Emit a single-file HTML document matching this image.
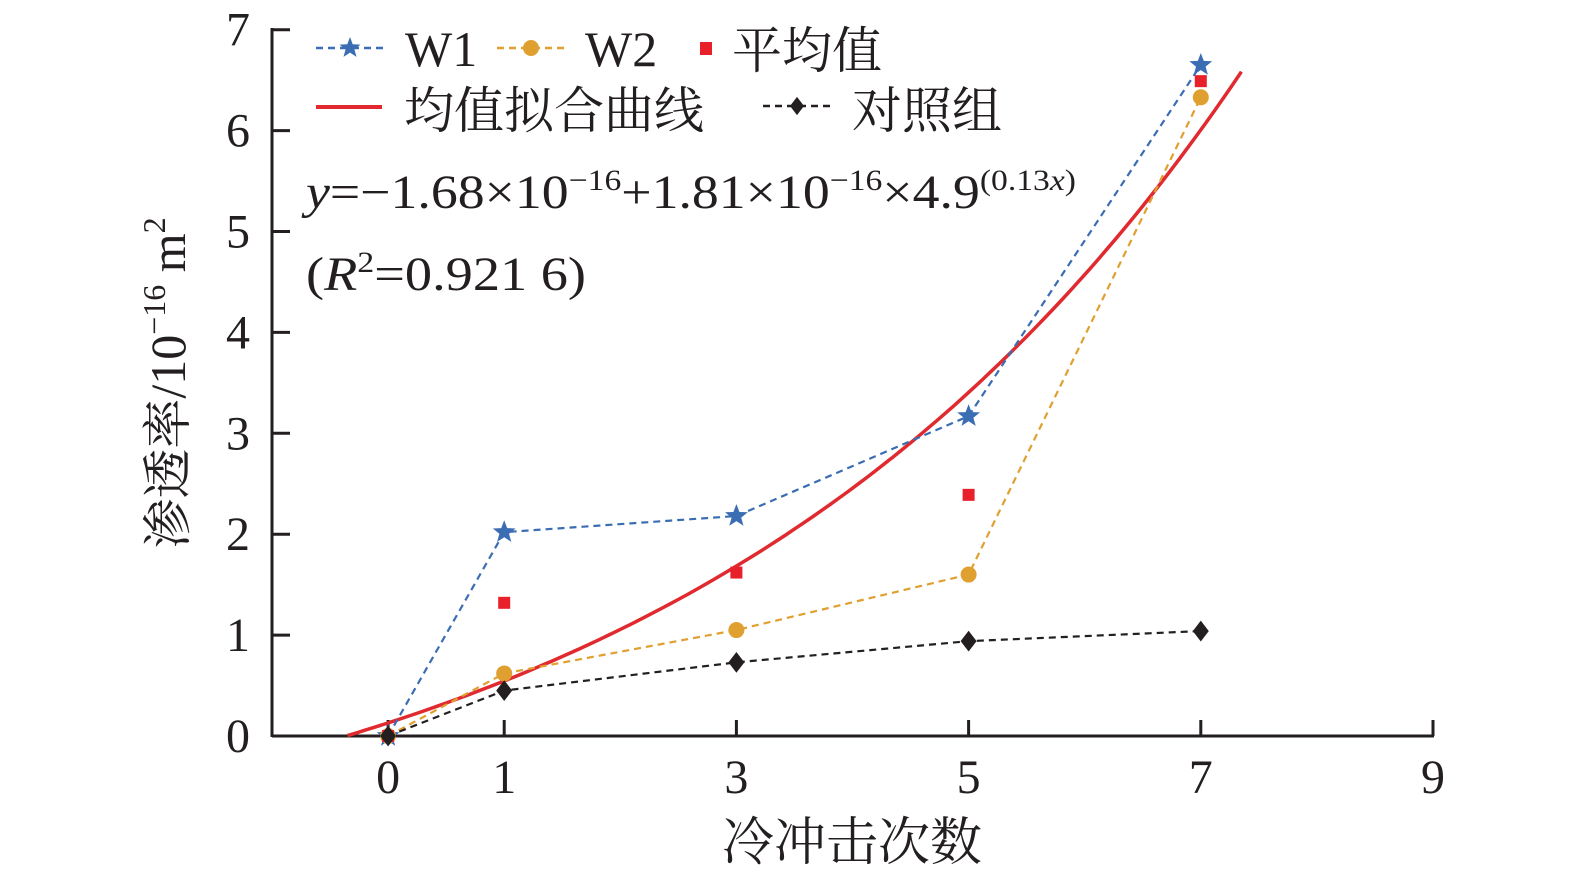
<!DOCTYPE html>
<html><head><meta charset="utf-8"><style>
html,body{margin:0;padding:0;background:#fff;width:1575px;height:874px;overflow:hidden}
svg{display:block}
text{font-family:"Liberation Serif","Noto Serif CJK SC",serif;fill:#231f20}
</style></head><body>
<svg id="chart" width="1575" height="874" xmlns="http://www.w3.org/2000/svg">
<g id="axes"></g><g id="plot"></g><g id="legend"></g>
</svg>
<script>
const xCats=[0,1,3,5,7];
const w1=[0,2.02,2.18,3.17,6.65];
const w2=[0,0.62,1.05,1.6,6.33];
const avg=[0,1.32,1.62,2.39,6.49];
const ctrl=[0,0.45,0.73,0.94,1.04];
const xTicks=[0,1,3,5,7,9];
const yTicks=[0,1,2,3,4,5,6,7];
const fitA=-1.68,fitB=1.81,fitBase=4.9,fitK=0.13,fitX0=-0.35,fitX1=7.35;
const NS="http://www.w3.org/2000/svg";
const sx=v=>272+(v+1)*116.1, sy=v=>736-v*100.9;
function mk(tag,attrs,parent,txt){const e=document.createElementNS(NS,tag);for(const k in attrs)e.setAttribute(k,attrs[k]);if(txt!==undefined)e.textContent=txt;parent.appendChild(e);return e;}
const axes=document.getElementById('axes'),plot=document.getElementById('plot'),lg=document.getElementById('legend');
let e;
e=mk('line',{x1:272,y1:736,x2:1434,y2:736,stroke:'#231f20','stroke-width':3},axes);

e=mk('line',{x1:272,y1:28,x2:272,y2:737,stroke:'#231f20','stroke-width':3},axes);

xTicks.forEach(t=>{mk('line',{x1:sx(t),y1:736,x2:sx(t),y2:720,stroke:'#231f20','stroke-width':3},axes);
e=mk('text',{x:sx(t),y:793,'font-size':48,'text-anchor':'middle'},axes,t);
});
yTicks.forEach(t=>{mk('line',{x1:272,y1:sy(t),x2:290,y2:sy(t),stroke:'#231f20','stroke-width':3},axes);
e=mk('text',{x:250,y:sy(t)+16,'font-size':48,'text-anchor':'end'},axes,t);
});
e=mk('text',{x:852,y:860,'font-size':52,'text-anchor':'middle'},axes,'冷冲击次数');

e=mk('text',{x:0,y:0,'font-size':50,'text-anchor':'middle',transform:'translate(185,383) rotate(-90)'},axes);

e.innerHTML='渗透率/10<tspan dy="-20" font-size="32">−16</tspan><tspan dy="20"> m</tspan><tspan dy="-20" font-size="32">2</tspan>';
let d='';for(let i=0;i<=100;i++){const x=fitX0+(fitX1-fitX0)*i/100;const y=fitA+fitB*Math.pow(fitBase,fitK*x);d+=(i?'L':'M')+sx(x).toFixed(1)+','+sy(y).toFixed(1);}
e=mk('path',{d:d,fill:'none',stroke:'#e02a2f','stroke-width':3.5},plot);

function series(vals,color,name){const pts=xCats.map((x,i)=>sx(x)+','+sy(vals[i])).join(' ');
const p=mk('polyline',{points:pts,fill:'none',stroke:color,'stroke-width':2.2,'stroke-dasharray':'7,5'},plot);
}
function star(cx,cy,r,color,parent){let s='';for(let i=0;i<10;i++){const a=-Math.PI/2+i*Math.PI/5;const rr=i%2?r*0.42:r;s+=(cx+rr*Math.cos(a)).toFixed(1)+','+(cy+rr*Math.sin(a)).toFixed(1)+' ';}return mk('polygon',{points:s,fill:color},parent);}
function diamond(cx,cy,parent,s){return mk('polygon',{points:`${cx},${cy-s*1.3} ${cx+s},${cy} ${cx},${cy+s*1.3} ${cx-s},${cy}`,fill:'#231f20'},parent);}
series(w1,'#3b6db3','w1');series(w2,'#e0a030','w2');series(ctrl,'#231f20','control');
xCats.forEach((x,i)=>{e=star(sx(x),sy(w1[i]),12,'#3b6db3',plot);});
xCats.forEach((x,i)=>{e=mk('circle',{cx:sx(x),cy:sy(w2[i]),r:8,fill:'#e0a030'},plot);});
xCats.forEach((x,i)=>{e=mk('rect',{x:sx(x)-6,y:sy(avg[i])-6,width:12,height:12,fill:'#e8202a'},plot);});
xCats.forEach((x,i)=>{e=diamond(sx(x),sy(ctrl[i]),plot,8);});
function lgLine(x1,x2,y,color,dash,name){const l=mk('line',{x1:x1,y1:y,x2:x2,y2:y,stroke:color,'stroke-width':dash?2.5:4,'stroke-dasharray':dash?'7,5':'none'},lg);}
lgLine(316,385,48,'#3b6db3',true,'legend-w1-line');e=star(350,48,11,'#3b6db3',lg);
e=mk('text',{x:405,y:66,'font-size':50},lg,'W1');
lgLine(497,565,48,'#e0a030',true,'legend-w2-line');e=mk('circle',{cx:531,cy:48,r:8,fill:'#e0a030'},lg);
e=mk('text',{x:585,y:66,'font-size':50},lg,'W2');
e=mk('rect',{x:700,y:42,width:12,height:13,fill:'#e8202a'},lg);
e=mk('text',{x:732,y:68,'font-size':50},lg,'平均值');
lgLine(316,382,107,'#e02a2f',false,'legend-fit-line');
e=mk('text',{x:404,y:128,'font-size':50},lg,'均值拟合曲线');
lgLine(763,832,106,'#231f20',true,'legend-control-line');e=diamond(797,106,lg,7);
e=mk('text',{x:852,y:128,'font-size':50},lg,'对照组');
e=mk('text',{x:306,y:208,'font-size':48,textLength:770,lengthAdjust:'spacingAndGlyphs'},lg);
e.innerHTML='<tspan font-style="italic">y</tspan>=−1.68×10<tspan dy="-18" font-size="30">−16</tspan><tspan dy="18">+1.81×10</tspan><tspan dy="-18" font-size="30">−16</tspan><tspan dy="18">×4.9</tspan><tspan dy="-18" font-size="30">(0.13<tspan font-style="italic">x</tspan>)</tspan>';

e=mk('text',{x:306,y:290,'font-size':48,textLength:280,lengthAdjust:'spacingAndGlyphs'},lg);
e.innerHTML='(<tspan font-style="italic">R</tspan><tspan dy="-18" font-size="30">2</tspan><tspan dy="18">=0.921 6)</tspan>';

</script>
</body></html>
